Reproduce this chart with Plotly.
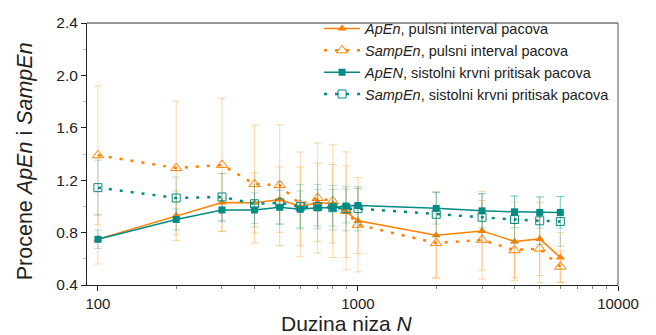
import plotly.graph_objects as go

N = [100, 200, 300, 400, 500, 600, 700, 800, 900, 1000, 2000, 3000, 4000, 5000, 6000]

apen_pi = [0.75, 0.93, 1.03, 1.027, 1.052, 1.0, 1.03, 1.02, 0.96, 0.89, 0.78, 0.813, 0.732, 0.752, 0.61]
apen_pi_err = [0.19, 0.19, 0.22, 0.23, 0.25, 0.30, 0.30, 0.30, 0.35, 0.25, 0.33, 0.30, 0.30, 0.28, 0.19]

sampen_pi = [1.39, 1.293, 1.317, 1.17, 1.162, 1.015, 1.064, 1.04, 0.966, 0.86, 0.72, 0.745, 0.666, 0.678, 0.54]
sampen_pi_err = [0.53, 0.51, 0.51, 0.45, 0.46, 0.40, 0.42, 0.43, 0.45, 0.36, 0.26, 0.30, 0.21, 0.26, 0.12]

apen_sbp = [0.749, 0.90, 0.973, 0.973, 0.993, 0.978, 0.99, 0.99, 1.003, 1.007, 0.985, 0.966, 0.959, 0.954, 0.954]
apen_sbp_err = [0.07, 0.08, 0.09, 0.13, 0.13, 0.14, 0.14, 0.14, 0.13, 0.13, 0.12, 0.13, 0.12, 0.12, 0.12]

sampen_sbp = [1.143, 1.064, 1.072, 1.02, 1.027, 0.998, 0.998, 0.99, 0.983, 0.983, 0.94, 0.917, 0.90, 0.89, 0.885]
sampen_sbp_err = [0.21, 0.16, 0.18, 0.15, 0.16, 0.17, 0.17, 0.17, 0.17, 0.17, 0.17, 0.18, 0.18, 0.18, 0.19]

labels = [
    "<i>ApEn</i>, pulsni interval pacova",
    "<i>SampEn</i>, pulsni interval pacova",
    "<i>ApEN</i>, sistolni krvni pritisak pacova",
    "<i>SampEn</i>, sistolni krvni pritisak pacova",
]

y_ticks = [0.4, 0.8, 1.2, 1.6, 2.0, 2.4]
x_ticks = [100, 1000, 10000]

ORANGE = "#FF8000"
TEAL = "#008B84"
ORANGE_ERR = "rgba(255,150,40,0.4)"
TEAL_ERR = "rgba(0,150,140,0.3)"
FONT = "Liberation Sans, Arial, sans-serif"

fig = go.Figure()

fig.add_trace(go.Scatter(
    x=N, y=apen_pi, name=labels[0], mode="lines+markers",
    line=dict(color=ORANGE, width=1.5),
    marker=dict(symbol="triangle-up", size=8, color=ORANGE),
    error_y=dict(type="data", array=apen_pi_err, color=ORANGE_ERR, thickness=1, width=4),
))
fig.add_trace(go.Scatter(
    x=N, y=sampen_pi, name=labels[1], mode="lines+markers",
    line=dict(color=ORANGE, width=2.5, dash="3px,8px"),
    marker=dict(symbol="triangle-up-open", size=10, color=ORANGE, line=dict(width=1)),
    error_y=dict(type="data", array=sampen_pi_err, color=ORANGE_ERR, thickness=1, width=4),
))
fig.add_trace(go.Scatter(
    x=N, y=apen_sbp, name=labels[2], mode="lines+markers",
    line=dict(color=TEAL, width=1.5),
    marker=dict(symbol="square", size=7, color=TEAL),
    error_y=dict(type="data", array=apen_sbp_err, color=TEAL_ERR, thickness=1, width=4),
))
fig.add_trace(go.Scatter(
    x=N, y=sampen_sbp, name=labels[3], mode="lines+markers",
    line=dict(color=TEAL, width=2.5, dash="3px,8px"),
    marker=dict(symbol="square-open", size=8, color=TEAL, line=dict(width=1)),
    error_y=dict(type="data", array=sampen_sbp_err, color=TEAL_ERR, thickness=1, width=4),
))

fig.update_layout(
    width=656, height=335,
    margin=dict(l=87, r=38, t=14, b=50),
    paper_bgcolor="white", plot_bgcolor="white",
    font=dict(family=FONT, color="#222"),
    showlegend=True,
    legend=dict(
        x=0.437, y=1.04, xanchor="left", yanchor="top",
        traceorder="normal",
        bgcolor="rgba(0,0,0,0)", font=dict(size=14.5, family=FONT, color="#222"),
        tracegroupgap=0, itemwidth=36,
    ),
    xaxis=dict(
        type="log", range=[1.958, 4.0],
        tickvals=x_ticks, ticktext=[str(v) for v in x_ticks],
        ticks="outside", ticklen=5, tickwidth=1, tickcolor="#222",
        showline=True, linecolor="#222", linewidth=1,
        showgrid=False, zeroline=False,
        tickfont=dict(size=15, family=FONT, color="#222"),
        minor=dict(ticks="outside", ticklen=3, tickcolor="#888", dtick="D1", showgrid=False),
    ),
    yaxis=dict(
        range=[0.4, 2.4], tickvals=y_ticks, ticktext=[f"{v:.1f}" for v in y_ticks],
        ticks="outside", ticklen=5, tickwidth=1, tickcolor="#222",
        showline=True, linecolor="#222", linewidth=1,
        showgrid=False, zeroline=False,
        tickfont=dict(size=15.5, family=FONT, color="#222"),
        minor=dict(ticks="outside", ticklen=3, tickcolor="#bbb", dtick=0.2, showgrid=False),
    ),
    shapes=[
        dict(type="line", xref="paper", yref="paper", x0=0, x1=1, y0=1, y1=1,
             line=dict(color="#777", width=1.5)),
        dict(type="line", xref="paper", yref="paper", x0=1, x1=1, y0=0, y1=1,
             line=dict(color="#555", width=1)),
    ],
    annotations=[
        dict(text="Procene <i>ApEn</i> i <i>SampEn</i>", xref="paper", yref="paper",
             x=(25 - 87) / 531, y=(285 - 157) / 271, xanchor="center", yanchor="middle",
             textangle=-90, showarrow=False, font=dict(size=21.5, family=FONT, color="#222")),
        dict(text="Duzina niza <i>N</i>", xref="paper", yref="paper",
             x=(347 - 87) / 531, y=-(325 - 285) / 271, xanchor="center", yanchor="middle",
             showarrow=False, font=dict(size=21, family=FONT, color="#222")),
    ],
)

fig.write_html("out.html")
